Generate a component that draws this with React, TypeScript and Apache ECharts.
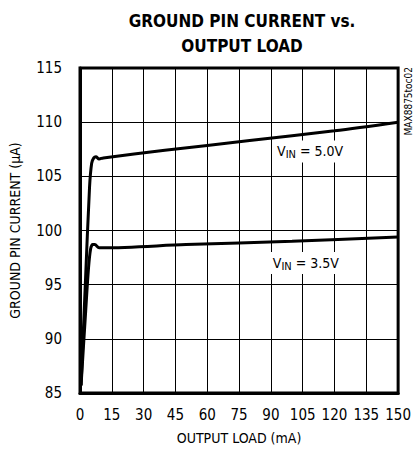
import React, { useEffect, useRef } from "react";
import * as echarts from "echarts";

const loadMA5 = [0.5, 2.5, 4.5, 5.5, 6.5, 7.5, 9, 11, 40, 80, 120, 150];
const current5 = [85.7, 95, 104, 106.2, 106.7, 106.8, 106.6, 106.7, 107.4, 108.3, 109.2, 110.0];
const loadMA35 = [0.5, 2.5, 4, 5, 6, 7, 9, 11, 50, 100, 150];
const current35 = [85.7, 92, 96.5, 98.3, 98.7, 98.7, 98.4, 98.4, 98.7, 99.0, 99.4];
const xTicks = [0, 15, 30, 45, 60, 75, 90, 105, 120, 135, 150];
const yTicks = [85, 90, 95, 100, 105, 110, 115];
const label5 = { x: 108.5, y: 107.3, text: "5.0V" };
const label35 = { x: 106.5, y: 97.0, text: "3.5V" };

const FONT = "'DejaVu Sans Condensed', 'Liberation Sans Narrow', sans-serif";

export default function App() {
  const ref = useRef<HTMLDivElement>(null);
  useEffect(() => {
    const chart = echarts.init(ref.current!, null, { renderer: "svg" });
    const rich = {
      a: { fontSize: 14, fontFamily: FONT, color: "#000" },
      b: { fontSize: 11, fontFamily: FONT, color: "#000", verticalAlign: "bottom", padding: [7, 0, 0, 0] },
    };
    const mk = (l: any) => ({
      coord: [l.x, l.y],
      symbol: "rect",
      symbolSize: 0,
      label: {
        show: true,
        position: "inside",
        formatter: `{a|V}{b|IN}{a| = ${l.text}}`,
        backgroundColor: "#fff",
        padding: [2, 3, 2, 3],
        rich,
      },
    });
    chart.setOption({
      animation: false,
      textStyle: { fontFamily: FONT },
      title: {
        text: "GROUND PIN CURRENT vs.\nOUTPUT LOAD",
        left: 237,
        textAlign: "center",
        top: 3,
        textStyle: { fontFamily: FONT, fontWeight: "bold", fontSize: 17, lineHeight: 25, color: "#000" },
      },
      grid: { left: 77, right: 11, top: 68, bottom: 59, show: true, borderColor: "#000", borderWidth: 3 },
      xAxis: {
        type: "value",
        min: 0,
        max: 150,
        interval: 15,
        name: "OUTPUT LOAD (mA)",
        nameLocation: "middle",
        nameGap: 38,
        nameTextStyle: { fontFamily: FONT, fontSize: 14, color: "#000" },
        axisLine: { show: true, lineStyle: { color: "#000", width: 3 } },
        axisTick: { show: false },
        axisLabel: { fontFamily: FONT, fontSize: 15, color: "#000", margin: 14, formatter: (v: number) => (xTicks.includes(v) ? String(v) : "") },
        splitLine: { show: true, lineStyle: { color: "#000", width: 1 } },
      },
      yAxis: {
        type: "value",
        min: 85,
        max: 115,
        interval: 5,
        name: "GROUND PIN CURRENT (\u00b5A)",
        nameLocation: "middle",
        nameGap: 58,
        nameTextStyle: { fontFamily: FONT, fontSize: 14, color: "#000" },
        axisLine: { show: true, lineStyle: { color: "#000", width: 3 } },
        axisTick: { show: false },
        axisLabel: { fontFamily: FONT, fontSize: 15, color: "#000", margin: 18, formatter: (v: number) => (yTicks.includes(v) ? String(v) : "") },
        splitLine: { show: true, lineStyle: { color: "#000", width: 1 } },
      },
      series: [
        {
          type: "line",
          data: loadMA5.map((x, i) => [x, current5[i]]),
          showSymbol: false,
          smooth: 0.3,
          lineStyle: { color: "#000", width: 3 },
          markPoint: { data: [mk(label5)], silent: true },
          z: 5,
        },
        {
          type: "line",
          data: loadMA35.map((x, i) => [x, current35[i]]),
          showSymbol: false,
          smooth: 0.3,
          lineStyle: { color: "#000", width: 3 },
          markPoint: { data: [mk(label35)], silent: true },
          z: 5,
        },
      ],
      graphic: [
        {
          type: "text",
          left: 403,
          top: 67,
          rotation: Math.PI / 2,
          style: { text: "MAX8875toc02", fontFamily: FONT, fontSize: 10, fill: "#000" },
        },
      ],
    });
    return () => chart.dispose();
  }, []);
  return <div ref={ref} style={{ width: 414, height: 452, position: "absolute", left: 0, top: 0 }} />;
}
